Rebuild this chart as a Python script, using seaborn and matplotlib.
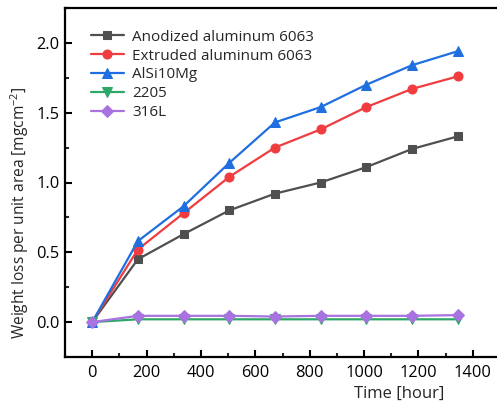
import matplotlib
matplotlib.use("Agg")
import matplotlib.pyplot as plt
import seaborn as sns
import pandas as pd
from matplotlib.ticker import MultipleLocator

sns.set_theme(style="ticks")
plt.rcParams['font.family'] = ['Open Sans', 'DejaVu Sans']
plt.rcParams['mathtext.fontset'] = 'custom'
plt.rcParams['mathtext.rm'] = 'Open Sans'
plt.rcParams['mathtext.it'] = 'Open Sans'

time_h = [0, 168, 336, 504, 672, 840, 1008, 1176, 1344]
anodized = [0, 0.45, 0.63, 0.80, 0.92, 1.00, 1.11, 1.24, 1.33]
extruded = [0, 0.52, 0.78, 1.04, 1.25, 1.38, 1.54, 1.67, 1.76]
alsi10mg = [0, 0.58, 0.83, 1.14, 1.43, 1.54, 1.70, 1.84, 1.94]
d2205 = [0, 0.02, 0.02, 0.02, 0.02, 0.02, 0.02, 0.02, 0.02]
ss316l = [0, 0.045, 0.045, 0.045, 0.04, 0.045, 0.045, 0.045, 0.05]

series_names = ["Anodized aluminum 6063", "Extruded aluminum 6063", "AlSi10Mg", "2205", "316L"]
series_vals = [anodized, extruded, alsi10mg, d2205, ss316l]
colors = ["#4f4f4f", "#f03c3f", "#1f6fe0", "#2ea866", "#a872e0"]
markers = ["s", "o", "^", "v", "D"]
msizes = [5.5, 6.5, 7, 7, 6]

fig = plt.figure(figsize=(4.97, 4.01), dpi=100)
ax = fig.add_axes([65/497, 44/401, 435/497, 349/401])

for name, vals, c, m, ms in zip(series_names, series_vals, colors, markers, msizes):
    df = pd.DataFrame({"t": time_h, "w": vals})
    sns.lineplot(data=df, x="t", y="w", ax=ax, color=c, marker=m, markersize=ms,
                 markeredgecolor=c, linewidth=1.6, label=name)

ax.set_xlim(-100, 1500)
ax.set_ylim(-0.25, 2.25)
ax.xaxis.set_major_locator(MultipleLocator(200))
ax.xaxis.set_minor_locator(MultipleLocator(100))
ax.yaxis.set_major_locator(MultipleLocator(0.5))
ax.yaxis.set_minor_locator(MultipleLocator(0.25))
ax.yaxis.set_major_formatter(matplotlib.ticker.FormatStrFormatter('%.1f'))
ax.tick_params(which='major', direction='in', length=5, width=1.5, labelsize=11.8, colors='black')
ax.tick_params(axis='y', which='major', pad=4)
ax.tick_params(axis='x', which='major', pad=6)
ax.tick_params(which='minor', direction='in', length=3, width=1.5)
ax.tick_params(top=False, right=False, which='both')
for s in ax.spines.values():
    s.set_linewidth(1.6)
    s.set_color('black')

ax.set_xlabel("Time [hour]", fontsize=12)
ax.xaxis.set_label_coords(0.768, -0.082)
ax.set_ylabel("Weight loss per unit area [mgcm$^{-2}$]", fontsize=11.2)
ax.yaxis.set_label_coords(-0.078, 0.413)

ax.legend(loc='upper left', bbox_to_anchor=(0.045, 0.955), frameon=False, fontsize=11,
          handlelength=2.2, labelspacing=0.25, handletextpad=0.5, borderaxespad=0)

fig.savefig("out.png", dpi=100)
